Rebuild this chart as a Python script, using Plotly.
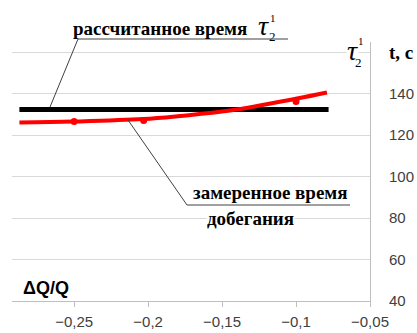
import plotly.graph_objects as go

# Relative flow change ΔQ/Q and lag time t, s
calc_dq = [-0.287, -0.078]
calc_t = [132.4, 132.4]

trend_dq = [-0.287, -0.2507, -0.2034, -0.1784, -0.1446, -0.0993, -0.0791]
trend_t = [126.1, 126.6, 127.8, 129.3, 131.9, 137.7, 140.6]

meas_dq = [-0.25, -0.203, -0.1]
meas_t = [126.6, 127.1, 136.3]

x_ticks = [-0.25, -0.2, -0.15, -0.1, -0.05]
y_ticks = [40, 60, 80, 100, 120, 140, 160]
y_ticktext = ["40", "60", "80", "100", "120", "140", ""]

W, H = 417, 333
L, R, T, B = 12, 47, 42, 32
PW, PH = W - L - R, H - T - B


def px(x, y):
    """Pixel position -> paper coordinates."""
    return (x - L) / PW, (H - B - y) / PH


fig = go.Figure()

fig.add_trace(go.Scatter(x=calc_dq, y=calc_t, mode="lines",
                         line=dict(color="#000000", width=5), hoverinfo="skip"))
fig.add_trace(go.Scatter(x=trend_dq, y=trend_t, mode="lines",
                         line=dict(color="#ff0000", width=4, shape="spline"),
                         hoverinfo="skip"))
fig.add_trace(go.Scatter(x=meas_dq, y=meas_t, mode="markers",
                         marker=dict(color="#ff0000", size=7), hoverinfo="skip"))

serif = "Liberation Serif"
sans = "Liberation Sans"

annotations = []


def note(text, x, y, size, family=serif, bg=None, weight="normal", style="normal", **kw):
    xp, yp = px(x, y)
    d = dict(text=text, x=xp, y=yp, xref="paper", yref="paper",
             showarrow=False,
             font=dict(family=family, size=size, color="#000000",
                       weight=weight, style=style),
             xanchor="center", yanchor="middle")
    if bg:
        d["bgcolor"] = bg
        d["borderpad"] = 0
    d.update(kw)
    annotations.append(d)


note("рассчитанное время", 160, 28, 19, weight="bold")
note("τ", 263, 26, 28, style="italic")
note("2", 272, 36, 13)
note("1", 273, 18, 11)

note("замеренное время", 270, 192, 19, weight="bold")
note("добегания", 250, 218, 19, weight="bold", bg="#ffffff")

note("τ", 352, 50, 28, style="italic", bg="#ffffff")
note("2", 358, 63, 13)
note("1", 361, 41, 11)

note("t, с", 401, 52, 19, weight="bold")
note("ΔQ/Q", 46, 288, 18, family=sans, weight="bold")

shapes = []


def seg(x0, y0, x1, y1):
    a, b = px(x0, y0)
    c, d = px(x1, y1)
    shapes.append(dict(type="line", xref="paper", yref="paper",
                       x0=a, y0=b, x1=c, y1=d,
                       line=dict(color="#404040", width=1)))


seg(78, 39, 288, 39)
seg(78, 39, 50, 107)
seg(187, 205, 350, 205)
seg(187, 205, 128, 120)

fig.update_layout(
    width=W, height=H,
    margin=dict(l=L, r=R, t=T, b=B, autoexpand=False),
    paper_bgcolor="#ffffff", plot_bgcolor="#ffffff",
    showlegend=False,
    separators=", ",
    annotations=annotations,
    shapes=shapes,
    xaxis=dict(range=[-0.292, -0.05], tickvals=x_ticks, tickformat=".2~f",
               showgrid=False, zeroline=False,
               showline=True, linecolor="#bfbfbf", linewidth=1,
               ticks="outside", ticklen=5, tickcolor="#bfbfbf",
               ticklabelstandoff=2,
               tickfont=dict(family=sans, size=15, color="#404040")),
    yaxis=dict(range=[40, 165], side="right", tickvals=y_ticks, ticktext=y_ticktext,
               showgrid=True, gridcolor="#d9d9d9", gridwidth=1, zeroline=False,
               showline=True, linecolor="#bfbfbf", linewidth=1,
               ticks="", ticklabelstandoff=15,
               tickfont=dict(family=sans, size=15, color="#404040")),
)

fig.write_html("out.html")
